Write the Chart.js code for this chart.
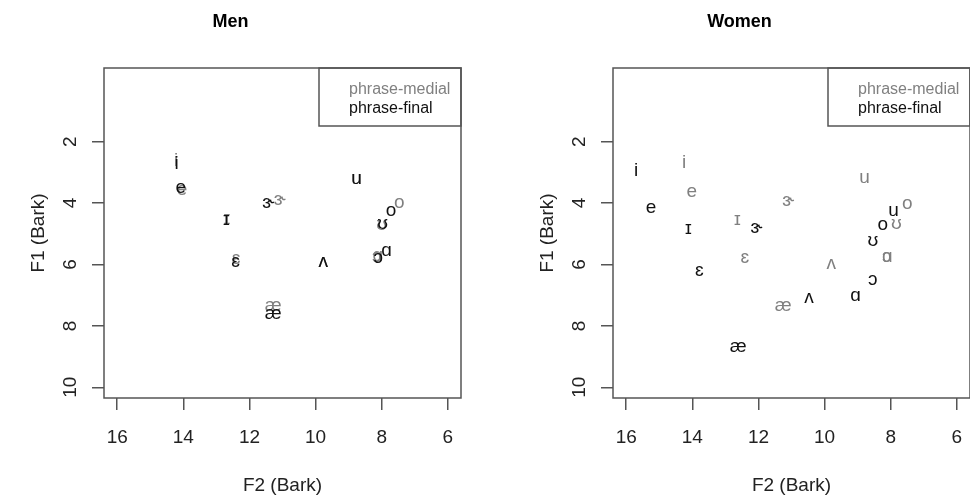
<!DOCTYPE html>
<html>
<head>
<meta charset="utf-8">
<script src="https://cdn.jsdelivr.net/npm/chart.js@4/dist/chart.umd.min.js"></script>
<style>
  html, body { margin: 0; padding: 0; background: #fff; overflow: hidden; }
  canvas { position: absolute; top: 0; }
  #menChart { left: 0; }
  #womenChart { left: 509px; }
</style>
</head>
<body>
<canvas id="menChart" width="485" height="495"></canvas>
<canvas id="womenChart" width="485" height="495"></canvas>
<script>
// vowel order used by every series below
const vowels = ['i', 'ɪ', 'e', 'ɛ', 'æ', 'ɝ', 'ʌ', 'ɑ', 'ɔ', 'o', 'ʊ', 'u'];
const seriesNames = ['phrase-medial', 'phrase-final'];
const seriesColors = ['#808080', '#111111'];

const xTicks = [16, 14, 12, 10, 8, 6];
const yTicks = [2, 4, 6, 8, 10];

// Men
const menMedialF2 = [14.22, 12.68, 14.04, 12.40, 11.28, 11.08, 9.77, 8.12, 8.15, 7.47, 8.00, 8.76];
const menMedialF1 = [2.62, 4.52, 3.58, 5.80, 7.35, 3.88, 5.90, 5.72, 5.75, 3.99, 4.70, 3.20];
const menFinalF2 = [14.20, 12.70, 14.08, 12.42, 11.28, 11.43, 9.77, 7.85, 8.10, 7.72, 7.97, 8.76];
const menFinalF1 = [2.72, 4.55, 3.50, 5.92, 7.60, 4.00, 5.92, 5.54, 5.78, 4.25, 4.67, 3.20];

// Women
const womenMedialF2 = [14.25, 12.64, 14.02, 12.41, 11.25, 11.10, 9.80, 8.10, 8.12, 7.50, 7.83, 8.79];
const womenMedialF1 = [2.68, 4.53, 3.63, 5.78, 7.36, 3.93, 5.98, 5.76, 5.74, 4.01, 4.69, 3.17];
const womenFinalF2 = [15.70, 14.12, 15.25, 13.79, 12.61, 12.06, 10.47, 9.06, 8.54, 8.24, 8.54, 7.91];
const womenFinalF1 = [2.95, 4.85, 4.15, 6.19, 8.67, 4.80, 7.09, 7.03, 6.49, 4.72, 5.24, 4.25];

const fontFamily = '"Liberation Sans", Arial, sans-serif';
Chart.defaults.font.family = fontFamily;

function toPoints(xs, ys) {
  return xs.map((x, i) => ({ x: x, y: ys[i] }));
}

// draws each vowel symbol at its point
const vowelLabels = {
  id: 'vowelLabels',
  afterDatasetsDraw(chart) {
    const ctx = chart.ctx;
    ctx.save();
    ctx.font = '19px ' + fontFamily;
    ctx.textAlign = 'center';
    ctx.textBaseline = 'middle';
    chart.data.datasets.forEach((ds, i) => {
      ctx.fillStyle = ds.textColor;
      chart.getDatasetMeta(i).data.forEach((pt, j) => {
        ctx.fillText(vowels[j], pt.x, pt.y);
      });
    });
    ctx.restore();
  }
};

// box round the plot and the legend in the top right corner
const plotFrame = {
  id: 'plotFrame',
  afterDraw(chart) {
    const ctx = chart.ctx;
    const { left, top, right, bottom } = chart.chartArea;
    ctx.save();
    ctx.strokeStyle = '#555';
    ctx.lineWidth = 1.5;
    ctx.strokeRect(left, top, right - left, bottom - top);
    ctx.strokeRect(right - 142, top, 142, 58);
    ctx.font = '16px ' + fontFamily;
    ctx.textAlign = 'left';
    ctx.textBaseline = 'middle';
    chart.data.datasets.forEach((ds, i) => {
      ctx.fillStyle = ds.textColor;
      ctx.fillText(ds.label, right - 112, top + 22 + i * 19);
    });
    ctx.restore();
  }
};

function makeChart(id, title, medialX, medialY, finalX, finalY) {
  const ctx = document.getElementById(id).getContext('2d');
  return new Chart(ctx, {
    type: 'scatter',
    data: {
      datasets: [
        { label: seriesNames[0], data: toPoints(medialX, medialY), textColor: seriesColors[0], pointRadius: 0 },
        { label: seriesNames[1], data: toPoints(finalX, finalY), textColor: seriesColors[1], pointRadius: 0 }
      ]
    },
    options: {
      responsive: false,
      animation: false,
      layout: { padding: { left: 0, right: 24, top: 0, bottom: 0 } },
      plugins: {
        legend: { display: false },
        tooltip: { enabled: false },
        title: {
          display: true,
          text: title,
          color: '#000',
          font: { size: 18, weight: 'bold' },
          padding: { top: 11, bottom: 35.4 }
        }
      },
      scales: {
        x: {
          type: 'linear',
          reverse: true,
          min: 5.6,
          max: 16.4,
          afterBuildTicks: s => { s.ticks = xTicks.map(v => ({ value: v })); },
          afterFit: s => { s.height = 97; },
          border: { display: false },
          grid: { drawOnChartArea: false, drawTicks: true, tickLength: 12, color: '#555', lineWidth: 1.5 },
          ticks: { padding: 16, color: '#222', font: { size: 19 }, maxRotation: 0 },
          title: { display: true, text: 'F2 (Bark)', color: '#222', font: { size: 19 }, padding: { top: 0, bottom: -2 } }
        },
        y: {
          type: 'linear',
          reverse: true,
          min: -0.4,
          max: 10.35,
          afterBuildTicks: s => { s.ticks = yTicks.map(v => ({ value: v })); },
          afterFit: s => { s.width = 104; },
          border: { display: false },
          grid: { drawOnChartArea: false, drawTicks: true, tickLength: 12, color: '#555', lineWidth: 1.5 },
          ticks: { padding: 11, color: '#222', font: { size: 19 }, minRotation: 90, maxRotation: 90, crossAlign: 'center' },
          title: { display: true, text: 'F1 (Bark)', color: '#222', font: { size: 19 }, padding: { top: 27, bottom: 0 } }
        }
      }
    },
    plugins: [vowelLabels, plotFrame]
  });
}

makeChart('menChart', 'Men', menMedialF2, menMedialF1, menFinalF2, menFinalF1);
makeChart('womenChart', 'Women', womenMedialF2, womenMedialF1, womenFinalF2, womenFinalF1);
</script>
</body>
</html>
